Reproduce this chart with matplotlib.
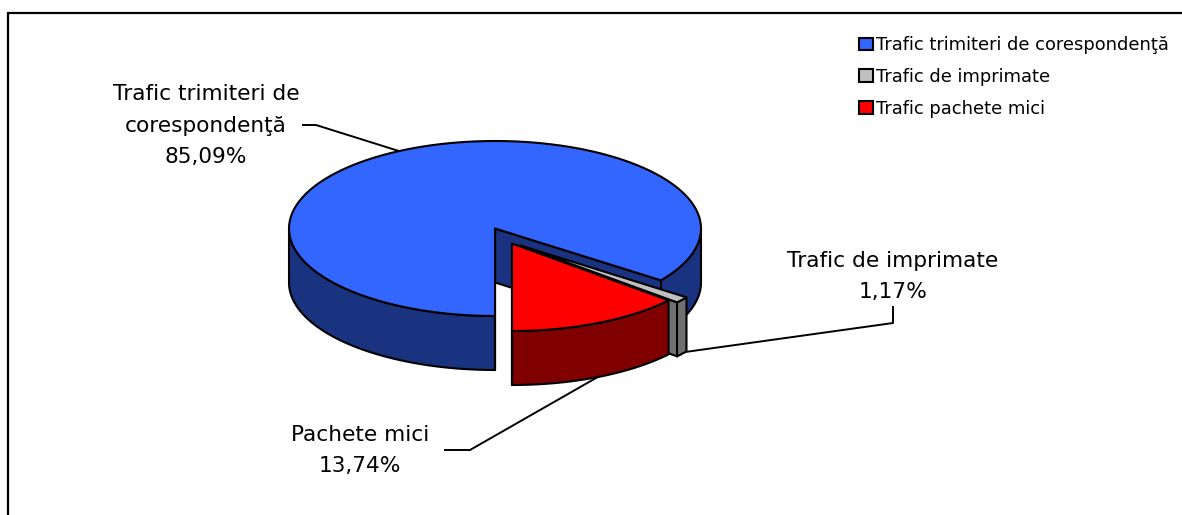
import numpy as np
import matplotlib
matplotlib.use('Agg')
import matplotlib.pyplot as plt
from matplotlib.patches import Polygon, Patch

plt.rcParams['font.family'] = ['DejaVu Sans']

# Data
legend_names = ['Trafic trimiteri de corespondenţă', 'Trafic de imprimate', 'Trafic pachete mici']
label_names = ['Trafic trimiteri de\ncorespondenţă', 'Trafic de imprimate', 'Pachete mici']
shares = [85.09, 1.17, 13.74]
top_colors = ['#3366FF', '#C0C0C0', '#FF0000']
side_colors = ['#1A3380', '#707070', '#800000']

# Pie geometry, in pixels
cx, cy = 495, 228.5
rx, ry = 206, 87.5
depth = 54
edge = dict(edgecolor='black', linewidth=1.5, joinstyle='round')


def arc(x0, y0, t0, t1, drop=0):
    # angles run from the bottom of the ellipse towards the right
    t = np.radians(np.linspace(t0, t1, 120))
    return np.column_stack([x0 + rx * np.sin(t), y0 + ry * np.cos(t) + drop])


def wall(ax, x0, y0, t0, t1, color, z):
    top = arc(x0, y0, t0, t1)
    ax.add_patch(Polygon(np.vstack([top, arc(x0, y0, t1, t0, depth)]), facecolor=color, zorder=z, **edge))


def cut(ax, x0, y0, t, color, z):
    p = arc(x0, y0, t, t)[0]
    pts = [(x0, y0), p, (p[0], p[1] + depth), (x0, y0 + depth)]
    ax.add_patch(Polygon(pts, facecolor=color, zorder=z, **edge))


def top(ax, x0, y0, t0, t1, color, z):
    pts = np.vstack([[(x0, y0)], arc(x0, y0, t0, t1)])
    ax.add_patch(Polygon(pts, facecolor=color, zorder=z, **edge))


fig = plt.figure(figsize=(11.82, 5.15), dpi=100)
ax = fig.add_axes([0, 0, 1, 1])
ax.set_xlim(0, 1182)
ax.set_ylim(515, 0)
ax.axis('off')

# Chart frame, cut off at the right and bottom of the picture
ax.plot([8, 8, 1182], [515, 13, 13], color='black', lw=1.6, solid_joinstyle='miter', zorder=1)

# Slice angles from the bottom, going right: red, grey, then blue
red_end = shares[2] * 3.6
grey_end = red_end + shares[1] * 3.6

# Leader lines
ax.plot([303, 316, 402], [125, 125, 152], color='black', lw=1.4, zorder=2)
ax.plot([893, 893, 678], [307, 323, 353], color='black', lw=1.4, zorder=2)
ax.plot([445, 470, 610], [450, 450, 370], color='black', lw=1.4, zorder=2)

# Blue slice
wall(ax, cx, cy, grey_end, 90, side_colors[0], 3)
wall(ax, cx, cy, 270, 360, side_colors[0], 3)
cut(ax, cx, cy, grey_end, side_colors[0], 3)
cut(ax, cx, cy, 360, side_colors[0], 3)
top(ax, cx, cy, grey_end, 360, top_colors[0], 4)

# Grey slice, pulled out
gx, gy = cx + 25.5, cy + 17
cut(ax, gx, gy, red_end, side_colors[1], 5)
wall(ax, gx, gy, red_end, grey_end, side_colors[1], 5)
top(ax, gx, gy, red_end, grey_end, top_colors[1], 6)

# Red slice, pulled out
bx, by = cx + 17, cy + 15
wall(ax, bx, by, 0, red_end, side_colors[2], 7)
cut(ax, bx, by, 0, side_colors[2], 7)
top(ax, bx, by, 0, red_end, top_colors[2], 8)

# Labels
label_size = 15.6
label_fmt = [f'{s:.2f}'.replace('.', ',') + '%' for s in shares]
ax.text(206, 125.5, label_names[0] + '\n' + label_fmt[0], ha='center', va='center',
        fontsize=label_size, linespacing=1.73, zorder=9)
ax.text(893, 276.5, label_names[1] + '\n' + label_fmt[1], ha='center', va='center',
        fontsize=label_size, linespacing=1.73, zorder=9)
ax.text(360, 450.5, label_names[2] + '\n' + label_fmt[2], ha='center', va='center',
        fontsize=label_size, linespacing=1.73, zorder=9)

# Legend
handles = [Patch(facecolor=c, edgecolor='black', linewidth=1.5) for c in top_colors]
ax.legend(handles, legend_names, loc='upper left', bbox_to_anchor=(859 / 1182, 1 - 36 / 515),
          frameon=False, fontsize=12.85, handlelength=0.78, handleheight=0.7, handletextpad=0.2,
          labelspacing=0.78, borderpad=0, borderaxespad=0)

fig.savefig('out.png', dpi=100)
